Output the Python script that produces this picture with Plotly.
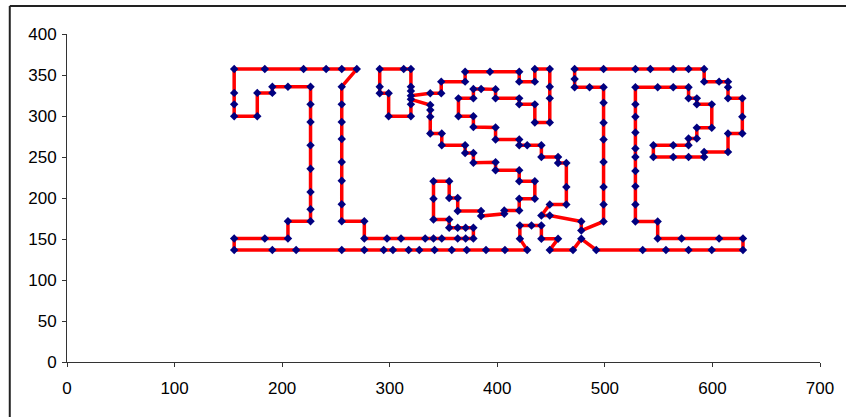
import plotly.graph_objects as go

# Tour order (x, y)
tour_x = [
    155.4, 183.9, 205.4, 205.4, 226.4, 226.4, 226.4, 226.4, 226.4, 226.4, 226.4, 226.4,
    205.4, 190.9, 190.9, 176.9, 176.9, 155.4, 155.4, 155.4, 155.4, 183.9, 219.9, 240.9,
    255.4, 269.4, 255.4, 255.4, 255.4, 255.4, 255.4, 255.4, 255.4, 255.4, 276.4, 276.4,
    297.5, 310.5, 333.0, 340.7, 348.4, 363.2, 370.6, 377.8, 377.8, 370.6, 363.2, 355.3,
    355.3, 340.7, 340.7, 340.7, 355.3, 355.3, 363.2, 363.2, 384.9, 384.9, 406.5, 406.5,
    420.4, 420.4, 434.9, 434.9, 420.4, 420.4, 398.4, 398.4, 377.8, 377.8, 370.1, 370.1,
    348.4, 348.4, 337.7, 337.7, 337.7, 337.7, 319.7, 319.7, 319.7, 299.0, 299.0, 290.7,
    290.7, 290.7, 313.0, 319.7, 319.7, 319.7, 319.7, 337.7, 347.9, 347.9, 370.1, 370.1,
    393.2, 420.4, 420.4, 434.9, 434.9, 448.8, 448.8, 448.8, 448.8, 434.9, 434.9, 420.4,
    420.4, 398.4, 398.4, 385.0, 377.8, 377.8, 363.9, 363.9, 377.8, 377.8, 398.4, 398.4,
    420.4, 420.4, 427.8, 441.0, 441.0, 456.5, 456.5, 464.2, 464.2, 464.2, 448.8, 441.0,
    448.8, 478.1, 478.1, 498.8, 498.8, 498.8, 498.8, 498.8, 498.8, 498.8, 498.8, 485.8,
    471.9, 471.9, 471.9, 498.8, 528.4, 542.3, 563.6, 577.8, 592.3, 592.3, 606.2, 614.5,
    614.5, 614.5, 627.8, 627.8, 627.8, 614.5, 614.5, 592.3, 592.3, 577.8, 563.6, 545.1,
    545.1, 563.6, 577.8, 577.8, 585.5, 585.5, 599.4, 599.4, 585.5, 585.5, 577.8, 577.8,
    563.6, 549.1, 528.4, 528.4, 528.4, 528.4, 528.4, 528.4, 528.4, 528.4, 528.4, 528.4,
    549.1, 549.1, 571.3, 606.2, 628.4, 628.4, 599.4, 577.8, 556.8, 535.2, 492.0, 478.1,
    470.4, 448.8, 456.5, 441.0, 441.0, 431.8, 421.0, 421.0, 427.8, 407.1, 389.5, 371.6,
    357.7, 341.7, 327.5, 317.6, 303.0, 294.4, 276.4, 255.4, 213.0, 190.9, 155.4,
]
tour_y = [
    150.7, 150.7, 150.7, 171.7, 171.7, 186.2, 207.2, 235.7, 264.2, 292.7, 314.2, 335.7,
    335.7, 335.7, 328.2, 328.2, 299.7, 299.7, 314.2, 328.2, 357.2, 357.2, 357.2, 357.2,
    357.2, 357.2, 335.7, 314.2, 292.7, 272.0, 244.0, 221.0, 192.5, 171.7, 171.7, 150.7,
    150.7, 150.7, 150.7, 150.7, 150.7, 150.7, 150.7, 150.7, 163.6, 163.6, 163.6, 163.6,
    173.8, 173.8, 199.1, 220.3, 220.3, 199.9, 199.9, 184.2, 184.2, 178.0, 180.7, 184.8,
    184.8, 199.1, 199.1, 220.3, 220.3, 233.8, 233.8, 243.5, 243.0, 255.0, 255.0, 264.4,
    264.4, 278.7, 278.7, 299.0, 307.2, 313.3, 320.3, 314.2, 299.7, 299.7, 327.7, 327.7,
    335.7, 357.2, 357.2, 357.2, 335.7, 330.5, 324.7, 327.7, 327.7, 341.9, 341.9, 354.0,
    354.0, 354.0, 341.9, 341.9, 357.2, 357.2, 335.7, 321.5, 292.2, 292.2, 314.2, 314.2,
    321.5, 321.5, 332.5, 333.0, 333.0, 321.5, 321.5, 299.7, 299.7, 286.5, 286.0, 271.3,
    271.3, 264.4, 264.4, 264.4, 250.1, 250.1, 242.7, 242.7, 213.3, 192.2, 192.2, 178.7,
    178.7, 171.4, 160.3, 171.4, 192.2, 213.3, 244.0, 271.3, 291.7, 316.2, 335.0, 335.0,
    335.0, 345.2, 357.2, 357.2, 357.2, 357.2, 357.2, 357.2, 357.2, 341.9, 341.9, 341.9,
    335.0, 321.5, 321.5, 299.0, 278.7, 278.7, 256.2, 256.2, 250.1, 250.1, 250.1, 250.1,
    264.4, 264.4, 264.4, 272.5, 272.5, 285.6, 285.6, 314.2, 314.2, 321.5, 321.5, 335.0,
    335.0, 335.0, 335.0, 314.2, 299.0, 280.0, 260.3, 250.1, 233.0, 214.2, 192.2, 171.4,
    171.4, 150.7, 150.7, 150.7, 150.7, 136.7, 136.7, 136.7, 136.7, 136.7, 136.7, 150.2,
    136.7, 136.7, 150.2, 150.2, 166.5, 166.5, 166.5, 150.2, 136.7, 136.7, 136.7, 136.7,
    136.7, 136.7, 136.7, 136.7, 136.7, 136.7, 136.7, 136.7, 136.7, 136.7, 136.7,
]

x_ticks = [0, 100, 200, 300, 400, 500, 600, 700]
y_ticks = [0, 50, 100, 150, 200, 250, 300, 350, 400]

# close the tour
px = tour_x + tour_x[:1]
py = tour_y + tour_y[:1]

fig = go.Figure()
fig.add_trace(go.Scatter(
    x=px, y=py, mode="lines",
    line=dict(color="#FF0000", width=3.5),
    hoverinfo="skip", showlegend=False,
))
fig.add_trace(go.Scatter(
    x=tour_x, y=tour_y, mode="markers",
    marker=dict(symbol="diamond", size=6.5, color="#000080",
                line=dict(width=0)),
    showlegend=False,
))

axis_common = dict(
    showgrid=False, zeroline=False, showline=True, linecolor="#333333",
    linewidth=1, ticks="outside", ticklen=4, tickcolor="#333333",
    tickwidth=1,
)
fig.update_xaxes(range=[0, 700], tickvals=x_ticks, ticktext=[str(v) for v in x_ticks],
                 tickfont=dict(family="Liberation Sans, Arial", size=17, color="#000000"),
                 ticklabelstandoff=7, **axis_common)
fig.update_yaxes(range=[0, 400], tickvals=y_ticks, ticktext=[str(v) for v in y_ticks],
                 tickfont=dict(family="Liberation Sans, Arial", size=17, color="#000000"),
                 ticklabelstandoff=2, **axis_common)

# outer chart border: only the left and top edges fall inside the picture
fig.add_shape(type="line", xref="paper", yref="paper",
              x0=-0.076, x1=-0.076, y0=-0.3, y1=1.0855,
              line=dict(color="#222222", width=2), layer="above")
fig.add_shape(type="line", xref="paper", yref="paper",
              x0=-0.076, x1=1.2, y0=1.0855, y1=1.0855,
              line=dict(color="#222222", width=2), layer="above")

fig.update_layout(
    width=846, height=417,
    margin=dict(l=67, r=23, t=34, b=55),
    paper_bgcolor="white", plot_bgcolor="white",
)
fig.write_html("out.html", config={"displayModeBar": False},
               post_script="document.body.style.margin='0';document.body.style.overflow='hidden';")
